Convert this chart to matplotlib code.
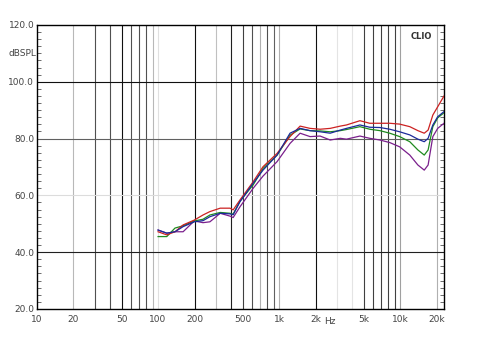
import matplotlib
matplotlib.use('Agg')
import matplotlib.pyplot as plt
from matplotlib.ticker import FixedLocator, MultipleLocator, NullFormatter

# frequency points (Hz)
freq = [100, 118, 138, 161, 199, 235, 268, 326, 393, 417, 475, 610, 736, 962,
        1230, 1490, 1800, 2180, 2640, 3200, 3600, 4650, 5600, 6800, 8200, 9900,
        12000, 14000, 15800, 17000, 18600, 20400, 23000]

red = [47.2, 46.1, 47.2, 49.6, 51.3, 53.1, 54.3, 55.5, 55.5, 54.9, 58.4, 64.8, 70.1, 74.8,
       80.7, 84.4, 83.6, 83.3, 83.6, 84.4, 84.8, 86.3, 85.4, 85.4, 85.4, 85.1,
       84.2, 82.8, 81.9, 83.0, 88.3, 91.2, 95.0]
green = [45.5, 45.5, 48.5, 49.3, 51.0, 51.6, 53.1, 54.0, 53.7, 53.4, 58.0, 63.7, 69.5, 74.2,
         81.2, 83.4, 82.8, 82.7, 82.4, 82.8, 83.2, 84.2, 83.3, 82.8, 81.9, 80.7,
         78.9, 76.0, 74.2, 76.0, 84.2, 87.3, 89.1]
blue = [47.8, 46.7, 47.2, 49.0, 50.7, 51.1, 52.5, 53.7, 53.5, 53.2, 57.8, 64.3, 68.9, 74.2,
        81.9, 83.6, 82.8, 82.4, 81.9, 83.0, 83.6, 84.8, 84.0, 83.9, 83.3, 82.4,
        81.3, 79.8, 78.9, 80.1, 84.8, 87.7, 89.5]
purple = [47.8, 46.7, 47.2, 47.2, 51.0, 50.4, 50.7, 53.7, 52.7, 52.2, 56.0, 62.5, 66.8, 71.9,
          78.3, 81.9, 80.7, 80.9, 79.5, 80.1, 79.8, 80.9, 80.1, 79.5, 78.6, 77.1,
          74.2, 70.7, 68.9, 70.7, 80.7, 83.6, 85.4]

x_ticks = [10, 20, 50, 100, 200, 500, 1000, 2000, 5000, 10000, 20000]
x_labels = ['10', '20', '50', '100', '200', '500', '1k', '2k', '5k', '10k', '20k']
y_ticks = [20, 40, 60, 80, 100, 120]
y_labels = ['20.0', '40.0', '60.0', '80.0', '100.0', '120.0']

fig = plt.figure(figsize=(4.8, 3.6), dpi=100)
ax = fig.add_axes([37/480, 1 - 309/360, 407/480, 284/360])
ax.set_xscale('log')
ax.set_xlim(10, 23000)
ax.set_ylim(20, 120)

# vertical grid, shades roughly as they look in the scan
vgrid = {20: '#b8b8b8', 30: '#505050', 40: '#505050', 50: '#101010',
         60: '#505050', 70: '#505050', 80: '#505050', 90: '#b8b8b8', 100: '#e0e0e0',
         200: '#101010', 300: '#c0c0c0', 400: '#202020', 500: '#404040',
         600: '#505050', 700: '#b0b0b0', 800: '#505050', 900: '#606060', 1000: '#b0b0b0',
         2000: '#101010', 3000: '#e4e4e4', 4000: '#e4e4e4', 5000: '#404040',
         6000: '#404040', 7000: '#404040', 8000: '#404040', 9000: '#404040',
         10000: '#a0a0a0', 20000: '#b0b0b0'}
for f, c in vgrid.items():
    ax.axvline(f, color=c, lw=0.8, zorder=1)
hgrid = {40: '#202020', 60: '#dcdcdc', 80: '#606060', 100: '#101010'}
for v, c in hgrid.items():
    ax.axhline(v, color=c, lw=0.8, zorder=1)

ax.plot(freq, purple, color='#7a1f8c', lw=0.9, zorder=3)
ax.plot(freq, green, color='#1f8a1f', lw=0.9, zorder=3)
ax.plot(freq, red, color='#cc2222', lw=0.9, zorder=4)
ax.plot(freq, blue, color='#1c2a9a', lw=0.9, zorder=5)

ax.xaxis.set_major_locator(FixedLocator(x_ticks))
ax.set_xticklabels(x_labels)
ax.xaxis.set_minor_locator(FixedLocator([]))
ax.tick_params(axis='x', length=0, labelsize=6.5, labelcolor='#444444', pad=4)

ax.yaxis.set_major_locator(FixedLocator(y_ticks))
ax.set_yticklabels(y_labels)
ax.yaxis.set_minor_locator(MultipleLocator(2.5))
ax.yaxis.set_minor_formatter(NullFormatter())
ax.tick_params(axis='y', which='major', length=0, labelsize=6.5, labelcolor='#444444', pad=2)
ax.tick_params(axis='y', which='minor', direction='in', length=3, width=0.6,
               left=True, right=True, color='#555555')

for s in ax.spines.values():
    s.set_color('black')
    s.set_linewidth(1.0)
ax.spines['top'].set_linewidth(1.0)

fig.text(22/480, 1 - 53/360, 'dBSPL', fontsize=6.5, color='#444444', ha='center', va='center')
fig.text(330/480, 1 - 322/360, 'Hz', fontsize=6.5, color='#444444', ha='center', va='center')
ax.text(0.97, 0.975, 'CLIO', transform=ax.transAxes, fontsize=6, fontweight='bold',
        color='#333333', ha='right', va='top')

fig.savefig('out.png', dpi=100)
